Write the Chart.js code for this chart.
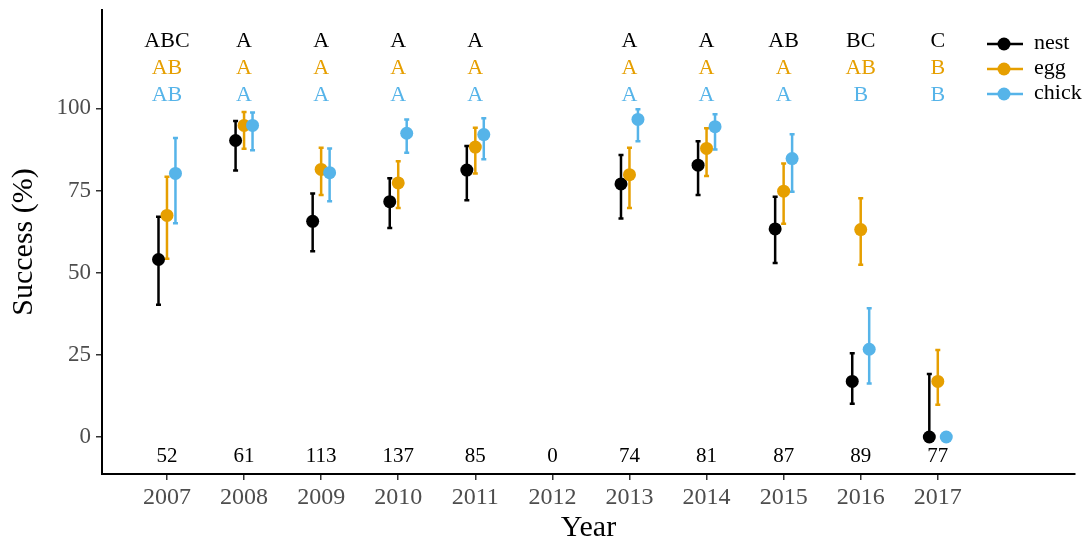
<!DOCTYPE html>
<html>
<head>
<meta charset="utf-8">
<script src="https://cdn.jsdelivr.net/npm/chart.js@4.4.1/dist/chart.umd.min.js"></script>
<style>
  html, body { margin: 0; padding: 0; background: #fff; }
  #wrap { width: 1091px; height: 546px; }
</style>
</head>
<body>
<div id="wrap"><canvas id="chart" width="1091" height="546"></canvas></div>
<script>
    /********************
     * Data
     ********************/
    const years = [2007, 2008, 2009, 2010, 2011, 2012, 2013, 2014, 2015, 2016, 2017];
    const yTicks = [0, 25, 50, 75, 100];
    const counts = [52, 61, 113, 137, 85, 0, 74, 81, 87, 89, 77];

    const nestMean = [54, 90.2, 65.6, 71.6, 81.2, null, 77, 82.7, 63.3, 16.9, 0];
    const nestLow  = [40.2, 81.1, 56.5, 63.6, 72, null, 66.5, 73.6, 52.9, 10.1, 0];
    const nestHigh = [67, 96.1, 74.1, 78.7, 88.5, null, 85.8, 90, 73.1, 25.5, 19.2];

    const eggMean = [67.4, 94.8, 81.4, 77.3, 88.2, null, 79.8, 87.8, 74.8, 63.1, 16.9];
    const eggLow  = [54.2, 87.7, 73.6, 69.7, 80.2, null, 69.7, 79.4, 64.9, 52.4, 9.8];
    const eggHigh = [79.2, 98.9, 88, 83.9, 94.1, null, 88, 93.9, 83.2, 72.6, 26.5];

    const chickMean = [80.2, 94.8, 80.4, 92.4, 92, null, 96.6, 94.4, 84.7, 26.7, 0];
    const chickLow  = [65, 87.2, 71.7, 86.5, 84.5, null, 90, 87.5, 74.6, 16.3, 0];
    const chickHigh = [91, 98.7, 87.8, 96.6, 97, null, 99.7, 98.2, 92.1, 39.2, 0];

    const nestLetters  = ["ABC", "A", "A", "A", "A", "", "A", "A", "AB", "BC", "C"];
    const eggLetters   = ["AB", "A", "A", "A", "A", "", "A", "A", "A", "AB", "B"];
    const chickLetters = ["AB", "A", "A", "A", "A", "", "A", "A", "A", "B", "B"];

    /********************
     * Styling
     ********************/
    const SERIF = '"Liberation Serif", "Times New Roman", serif';
    const COLORS = { nest: "#000000", egg: "#E69F00", chick: "#56B4E9" };
    const DODGE = 0.11;

    function points(mean, low, high, shift){
      const out = [];
      mean.forEach((m, i) => {
        if(m === null) return;
        out.push({ x: years[i] + shift, y: m, lo: low[i], hi: high[i] });
      });
      return out;
    }

    const series = [
      { key: "nest",  label: "nest",  data: points(nestMean, nestLow, nestHigh, -DODGE), letters: nestLetters },
      { key: "egg",   label: "egg",   data: points(eggMean, eggLow, eggHigh, 0),         letters: eggLetters },
      { key: "chick", label: "chick", data: points(chickMean, chickLow, chickHigh, DODGE), letters: chickLetters }
    ];

    // error bars under the points
    const errorBars = {
      id: "errorBars",
      beforeDatasetsDraw(chart){
        const { ctx, scales: { x, y } } = chart;
        ctx.save();
        chart.data.datasets.forEach(ds => {
          ctx.strokeStyle = ds.backgroundColor;
          ctx.lineWidth = 2.5;
          ds.data.forEach(p => {
            if(p.hi === p.lo) return;
            const px = x.getPixelForValue(p.x);
            const top = y.getPixelForValue(p.hi);
            const bot = y.getPixelForValue(p.lo);
            ctx.beginPath();
            ctx.moveTo(px, top); ctx.lineTo(px, bot);
            ctx.moveTo(px - 2.5, top); ctx.lineTo(px + 2.5, top);
            if(p.lo > 0){ ctx.moveTo(px - 2.5, bot); ctx.lineTo(px + 2.5, bot); }
            ctx.stroke();
          });
        });
        ctx.restore();
      }
    };

    // letters, sample sizes and the legend
    const annotations = {
      id: "annotations",
      afterDatasetsDraw(chart){
        const { ctx, scales: { x, y } } = chart;
        const rowsAt = [118.5, 110.4, 102.2];
        ctx.save();
        ctx.textAlign = "center";
        ctx.textBaseline = "alphabetic";
        ctx.font = "22px " + SERIF;
        series.forEach((s, r) => {
          ctx.fillStyle = COLORS[s.key];
          years.forEach((yr, i) => {
            ctx.fillText(s.letters[i], x.getPixelForValue(yr), y.getPixelForValue(rowsAt[r]));
          });
        });
        ctx.font = "21px " + SERIF;
        ctx.fillStyle = "#000";
        years.forEach((yr, i) => {
          ctx.fillText(String(counts[i]), x.getPixelForValue(yr), y.getPixelForValue(-7.6));
        });

        // legend
        ctx.textAlign = "left";
        ctx.textBaseline = "middle";
        ctx.font = "22px " + SERIF;
        series.forEach((s, r) => {
          const cy = 44 + r * 25;
          ctx.strokeStyle = COLORS[s.key];
          ctx.lineWidth = 2.5;
          ctx.beginPath(); ctx.moveTo(987, cy); ctx.lineTo(1023, cy); ctx.stroke();
          ctx.fillStyle = COLORS[s.key];
          ctx.beginPath(); ctx.arc(1004, cy, 6.5, 0, Math.PI * 2); ctx.fill();
          ctx.fillStyle = "#000";
          ctx.fillText(s.label, 1034, cy - 1);
        });
        ctx.restore();
      }
    };

    const ctx = document.getElementById("chart").getContext("2d");
    new Chart(ctx, {
      type: "scatter",
      data: {
        datasets: series.map((s, i) => ({
          label: s.label,
          data: s.data,
          backgroundColor: COLORS[s.key],
          borderColor: COLORS[s.key],
          borderWidth: 0,
          pointRadius: 6.5,
          pointHoverRadius: 6.5,
          order: 2 - i
        }))
      },
      options: {
        responsive: false,
        animation: false,
        devicePixelRatio: 1,
        layout: { padding: { top: 10, right: 16, left: 0, bottom: 0 } },
        plugins: { legend: { display: false }, tooltip: { enabled: false } },
        scales: {
          x: {
            type: "linear",
            min: 2006.157,
            max: 2018.78,
            afterBuildTicks(scale){ scale.ticks = years.map(v => ({ value: v })); },
            afterFit(scale){ scale.height = 72; scale.paddingLeft = 0; scale.paddingRight = 0; },
            border: { display: true, color: "#000", width: 2 },
            grid: { drawOnChartArea: false, drawTicks: true, tickLength: 6, color: "#333", lineWidth: 1.5 },
            ticks: {
              color: "#4D4D4D",
              padding: 3,
              font: { family: SERIF, size: 24 },
              callback: v => String(v)
            },
            title: {
              display: true,
              text: "Year",
              color: "#000",
              font: { family: SERIF, size: 30 },
              padding: { top: 0, bottom: 0 }
            }
          },
          y: {
            min: -11.25,
            max: 129.9,
            afterBuildTicks(scale){ scale.ticks = yTicks.map(v => ({ value: v })); },
            afterFit(scale){ scale.width = 102; scale.paddingTop = 0; scale.paddingBottom = 0; },
            border: { display: true, color: "#000", width: 2 },
            grid: { drawOnChartArea: false, drawTicks: true, tickLength: 6, color: "#333", lineWidth: 1.5 },
            ticks: {
              color: "#4D4D4D",
              padding: 5,
              font: { family: SERIF, size: 23 },
              callback: v => String(v)
            },
            title: {
              display: true,
              text: "Success (%)",
              color: "#000",
              font: { family: SERIF, size: 30 },
              padding: { top: 6, bottom: 0 }
            }
          }
        }
      },
      plugins: [errorBars, annotations]
    });
</script>
</body>
</html>
